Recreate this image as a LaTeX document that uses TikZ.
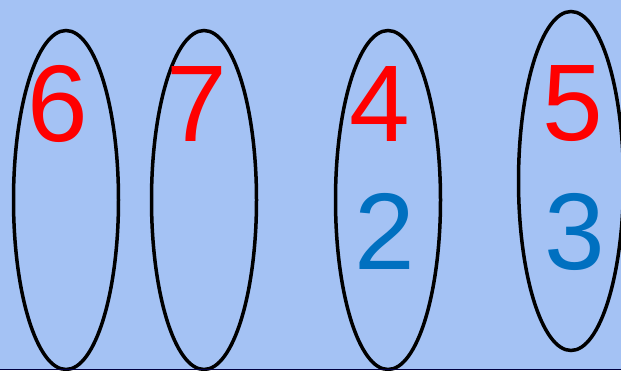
\documentclass[tikz,border=0pt]{standalone}
\usepackage{fontspec}
\setmainfont{Liberation Sans}
\usetikzlibrary{shapes.geometric}
\definecolor{bgblue}{HTML}{A4C2F4}
\definecolor{numred}{HTML}{FF0000}
\definecolor{numblue}{HTML}{0070C0}
\begin{document}
\begin{tikzpicture}[x=1pt,y=-1pt,
  oval/.style={draw=black,line width=3.5pt,ellipse,inner sep=0pt,minimum width=105pt,minimum height=339pt},
  digit/.style={inner sep=0pt,font=\fontsize{109}{109}\selectfont},
  rednum/.style={digit,text=numred},
  bluenum/.style={digit,text=numblue}]
\useasboundingbox (0,0) rectangle (621,370);
\clip (0,0) rectangle (621,370);
\fill[bgblue] (0,0) rectangle (621,370);
\node[oval] (e1) at (66,200) {};
\node[oval] (e2) at (204,200) {};
\node[oval] (e3) at (388,200) {};
\node[oval] (e4) at (571,181) {};
\node[rednum] (n6) at (58,104) {6};
\node[rednum] (n7) at (197,104) {7};
\node[rednum] (n4) at (380,104) {4};
\node[rednum] (n5) at (573,104) {5};
\node[bluenum] (n2) at (385,231) {2};
\node[bluenum] (n3) at (575,232) {3};
\draw[color=black!75!blue,line width=1pt] (0,369.5) -- (621,369.5);
\end{tikzpicture}
\end{document}
